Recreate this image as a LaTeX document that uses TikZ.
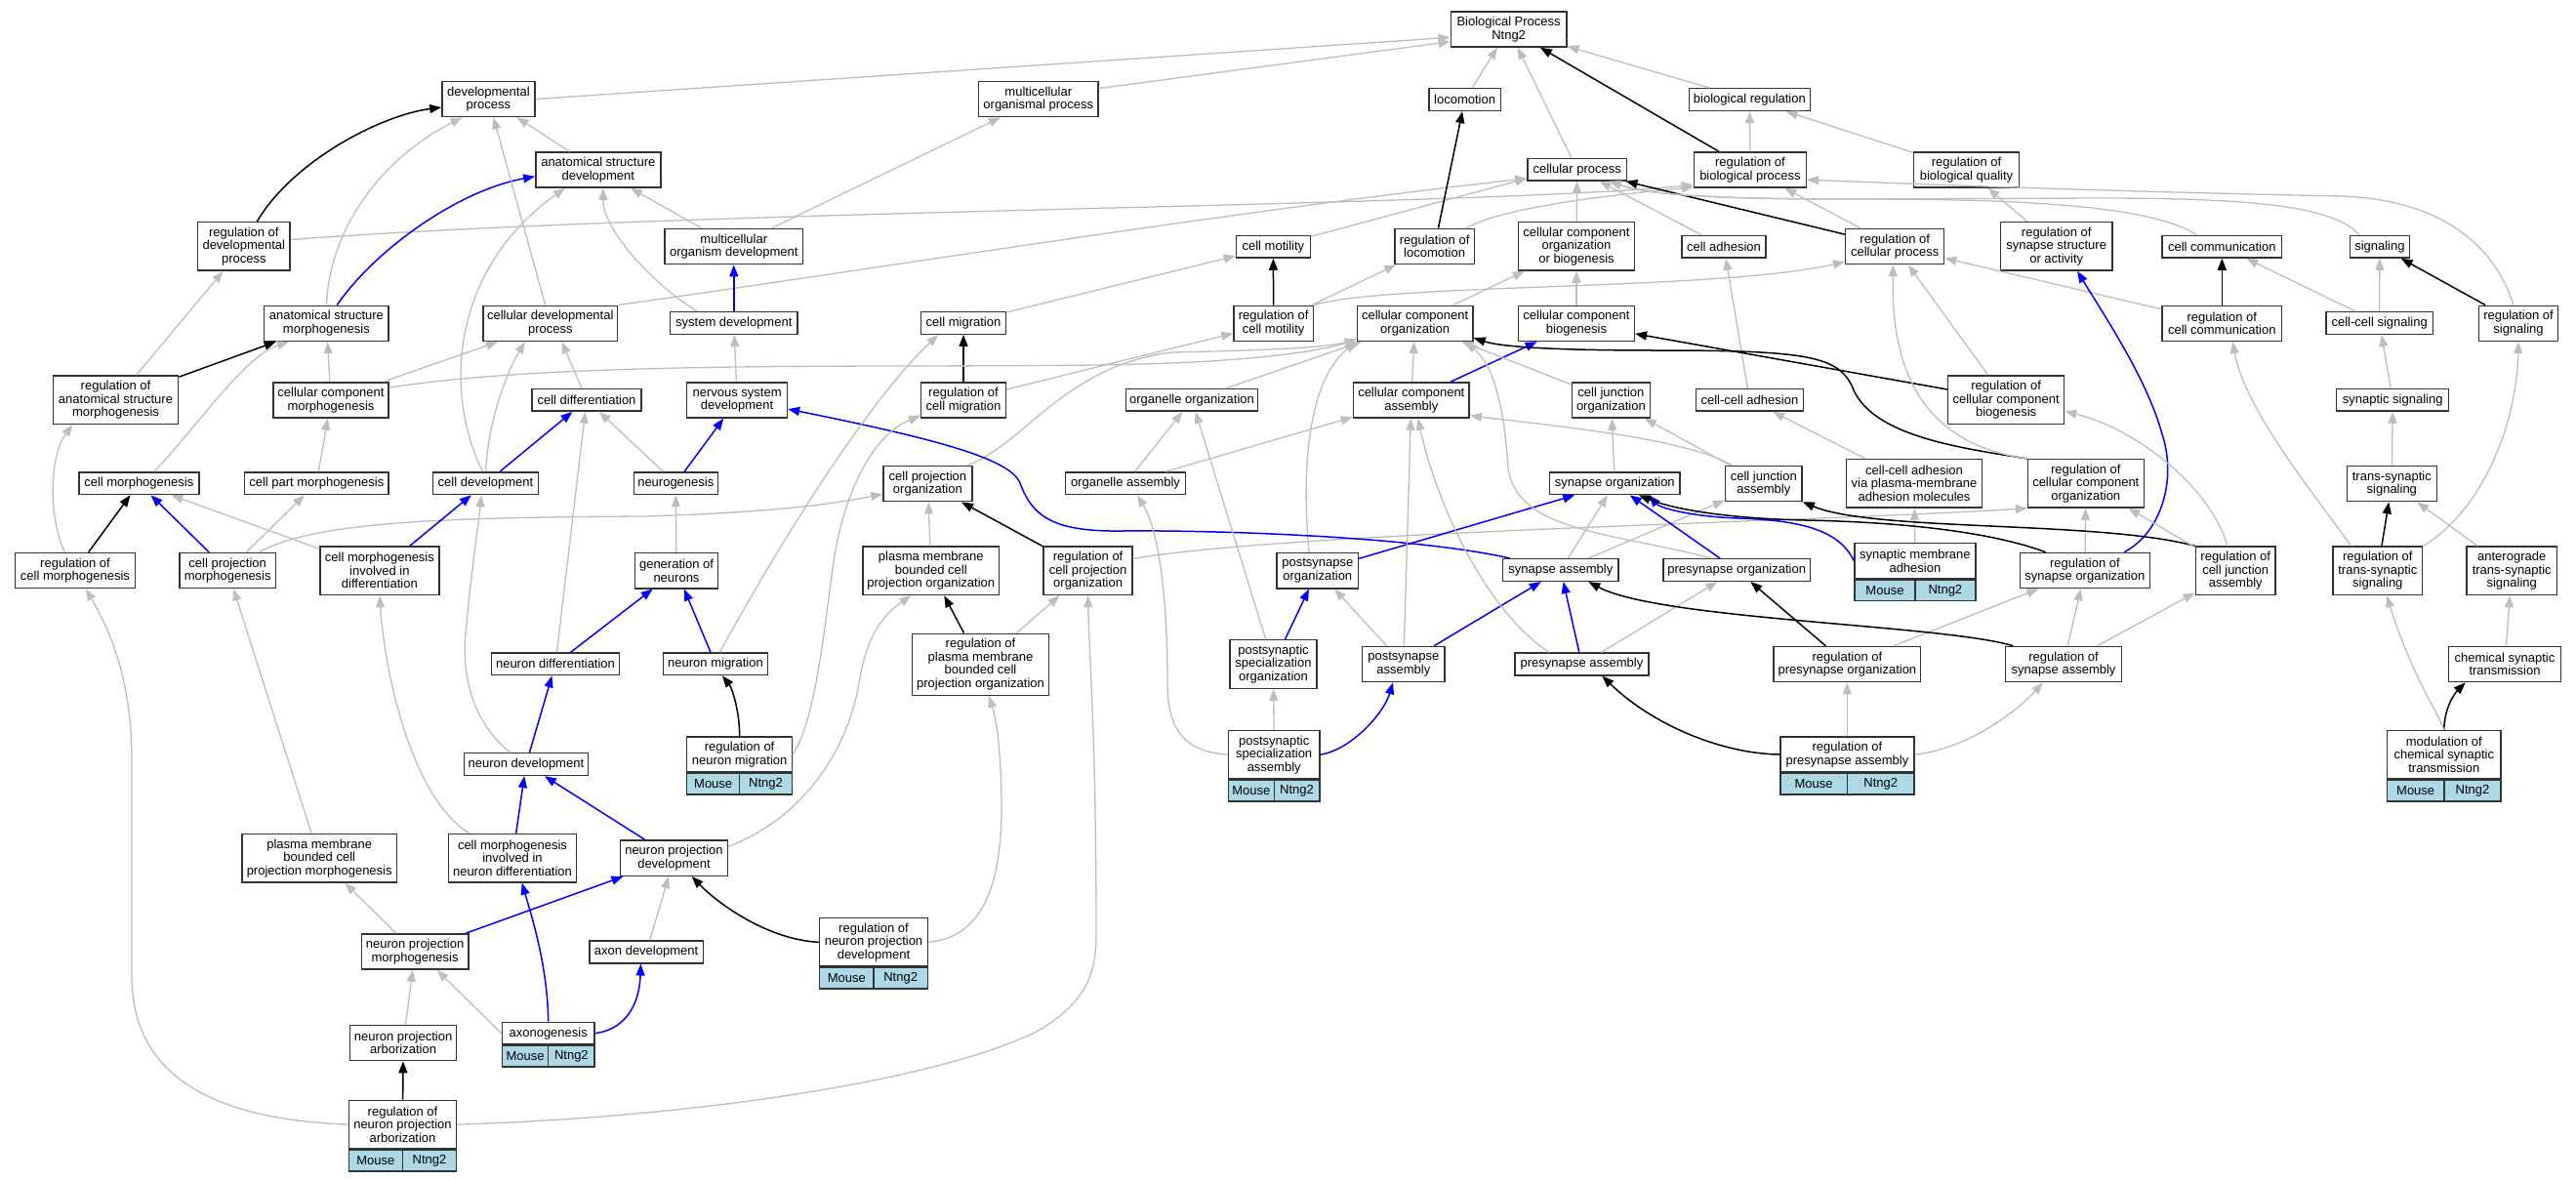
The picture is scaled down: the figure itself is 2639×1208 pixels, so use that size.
\documentclass[tikz,border=0pt]{standalone}
\usepackage{fontspec}
\setmainfont{Liberation Sans}
\usetikzlibrary{arrows.meta}
\definecolor{gvgray}{HTML}{BEBEBE}
\definecolor{gvcell}{HTML}{ADD8E6}
\definecolor{gvblue}{HTML}{0000FF}
\newcommand{\gofont}{\fontsize{13}{13.5}\selectfont}
\tikzset{
 gobox/.style={draw=black!80, line width=1.4pt, fill=white, inner sep=0pt, align=center, font=\gofont},
 cellbox/.style={draw=black!80, line width=1.4pt, fill=gvcell, inner sep=0pt, align=center, font=\gofont, minimum height=21.5pt},
 eisa/.style={draw=gvgray, line width=1.3pt, -{Triangle[length=12pt,width=9pt]}},
 ereg/.style={draw=black, line width=1.5pt, -{Triangle[length=12pt,width=9pt]}},
 epart/.style={draw=gvblue, line width=1.5pt, -{Triangle[length=12pt,width=9pt]}},
}
\newcommand{\gonode}[6]{\node[gobox, minimum width=#4pt, minimum height=#5pt] (#1) at (#2,#3) {#6};}
\newcommand{\annot}[7]{%
 \node[gobox, minimum width=#4pt, minimum height=#6pt, anchor=north] (#1) at (#2,#3) {#7};
 \node[cellbox, minimum width=#5pt, anchor=north west] (#1m) at (#1.south west) {Mouse};
 \node[cellbox, minimum width=#5pt, anchor=north east] (#1n) at (#1.south east) {Ntng2};
}
\begin{document}
\begin{tikzpicture}[x=1pt,y=-1pt]
\fill[white] (0,0) rectangle (2639,1208);
\useasboundingbox (0,0) rectangle (2639,1208);
% ---------- nodes ----------
\gonode{BP}{1545.6}{29.9}{118.7}{36.2}{Biological Process\\Ntng2}
\gonode{devp}{500.4}{101.5}{95.1}{36.2}{developmental\\process}
\gonode{mop}{1063.8}{101.5}{122.5}{36.2}{multicellular\\organismal process}
\gonode{loc}{1500.6}{102.1}{73.3}{22.7}{locomotion}
\gonode{bioreg}{1792.4}{102.1}{124.1}{22.7}{biological regulation}
\gonode{asd}{612.8}{174}{128}{36.2}{anatomical structure\\development}
\gonode{cellproc}{1615.7}{173.7}{101.4}{22.7}{cellular process}
\gonode{rbp}{1792.9}{173.9}{114.9}{36.2}{regulation of\\biological process}
\gonode{rbq}{2014.5}{173.9}{107.8}{36.2}{regulation of\\biological quality}
\gonode{rdp}{249.8}{252.3}{94.7}{49.5}{regulation of\\developmental\\process}
\gonode{mod}{751.8}{252.5}{141.4}{36.2}{multicellular\\organism development}
\gonode{celmot}{1304.4}{252.7}{75.8}{22.7}{cell motility}
\gonode{rloc}{1469.6}{252.5}{81.2}{36.2}{regulation of\\locomotion}
\gonode{ccob}{1615}{252.3}{118.7}{49.5}{cellular component\\organization\\or biogenesis}
\gonode{celladh}{1766}{252.7}{86.3}{22.7}{cell adhesion}
\gonode{rcp}{1941.2}{252.5}{101.1}{36.2}{regulation of\\cellular process}
\gonode{rssa}{2106.7}{252.3}{114.5}{49.5}{regulation of\\synapse structure\\or activity}
\gonode{cellcomm}{2276.3}{252.7}{122.9}{22.7}{cell communication}
\gonode{signaling}{2437.9}{252.7}{61.4}{22.7}{signaling}
\gonode{asm}{334.4}{331.3}{127.5}{36.2}{anatomical structure\\morphogenesis}
\gonode{cdp}{563.8}{331.3}{137.7}{36.2}{cellular developmental\\process}
\gonode{sysdev}{751.8}{330.9}{130.5}{22.7}{system development}
\gonode{cellmig}{987}{330.9}{86.7}{22.7}{cell migration}
\gonode{rcmot}{1304.6}{331.3}{81.3}{36.2}{regulation of\\cell motility}
\gonode{cco}{1449.6}{331.3}{118.7}{36.2}{cellular component\\organization}
\gonode{ccb}{1615}{331.3}{118.7}{36.2}{cellular component\\biogenesis}
\gonode{rcc}{2276.3}{331.3}{122.9}{36.2}{regulation of\\cell communication}
\gonode{ccs}{2437.7}{330.9}{109.8}{22.7}{cell-cell signaling}
\gonode{rsig}{2580}{331.3}{81.3}{36.2}{regulation of\\signaling}
\gonode{rasm}{118.5}{409.7}{128.4}{49.5}{regulation of\\anatomical structure\\morphogenesis}
\gonode{ccm}{339}{409.9}{118.2}{36.2}{cellular component\\morphogenesis}
\gonode{celldiff}{601}{409.8}{112}{22.7}{cell differentiation}
\gonode{nsd}{755.1}{409.9}{102.7}{36.2}{nervous system\\development}
\gonode{rcmig}{987}{409.9}{86.7}{36.2}{regulation of\\cell migration}
\gonode{orgorg}{1221}{409.8}{135.5}{22.7}{organelle organization}
\gonode{cca}{1445.8}{409.9}{118.7}{36.2}{cellular component\\assembly}
\gonode{cjo}{1650.4}{409.9}{80}{36.2}{cell junction\\organization}
\gonode{ccadh}{1792.4}{409.8}{109.9}{22.7}{cell-cell adhesion}
\gonode{rccb}{2055.1}{409.7}{119.1}{49.5}{regulation of\\cellular component\\biogenesis}
\gonode{synsig}{2451.2}{409.8}{114.9}{22.7}{synaptic signaling}
\gonode{cellmorph}{142.3}{495.2}{123}{22.7}{cell morphogenesis}
\gonode{cpm}{324.3}{495.2}{147.7}{22.7}{cell part morphogenesis}
\gonode{celldev}{497.5}{495.2}{107.7}{22.7}{cell development}
\gonode{neurog}{692.3}{495.2}{86.2}{22.7}{neurogenesis}
\gonode{cpo}{950.4}{495.6}{90.9}{36.2}{cell projection\\organization}
\gonode{orgass}{1153}{495.2}{122.5}{22.7}{organelle assembly}
\gonode{synorg}{1654.3}{495.3}{133.5}{22.7}{synapse organization}
\gonode{cja}{1806.8}{495.6}{78.7}{36.2}{cell junction\\assembly}
\gonode{ccapm}{1961}{495.3}{139}{49.5}{cell-cell adhesion\\via plasma-membrane\\adhesion molecules}
\gonode{rcco}{2136.8}{495.3}{119.1}{49.5}{regulation of\\cellular component\\organization}
\gonode{tss}{2450.3}{495.6}{92.2}{36.2}{trans-synaptic\\signaling}
\gonode{rcm}{77}{584.5}{122.9}{36.2}{regulation of\\cell morphogenesis}
\gonode{cprojm}{233.2}{584.5}{98.5}{36.2}{cell projection\\morphogenesis}
\gonode{cmid}{388.9}{584.8}{122}{49.5}{cell morphogenesis\\involved in\\differentiation}
\gonode{gon}{693}{584.7}{84.8}{36.2}{generation of\\neurons}
\gonode{pmbcpo}{953.8}{584.8}{139.7}{49.5}{plasma membrane\\bounded cell\\projection organization}
\gonode{rcpo}{1114.6}{584.8}{90.9}{49.5}{regulation of\\cell projection\\organization}
\gonode{postorg}{1349.8}{584.7}{83.5}{36.2}{postsynapse\\organization}
\gonode{synass}{1598.9}{584}{118.3}{22.7}{synapse assembly}
\gonode{preorg}{1779.2}{584}{150.7}{22.7}{presynapse organization}
\gonode{rso}{2135.9}{584.5}{133.4}{36.2}{regulation of\\synapse organization}
\gonode{rcja}{2290.2}{584.8}{81.6}{49.5}{regulation of\\cell junction\\assembly}
\gonode{rtss}{2435.8}{584.8}{91.8}{49.5}{regulation of\\trans-synaptic\\signaling}
\gonode{atss}{2573.2}{584.8}{92.2}{49.5}{anterograde\\trans-synaptic\\signaling}
\gonode{ndiff}{569}{680.3}{130.5}{22.7}{neuron differentiation}
\gonode{nmig}{733}{680.3}{106.5}{22.7}{neuron migration}
\gonode{rpmbcpo}{1004.5}{680.7}{140.2}{63}{regulation of\\plasma membrane\\bounded cell\\projection organization}
\gonode{psso}{1304.5}{680.5}{89}{49.5}{postsynaptic\\specialization\\organization}
\gonode{postass}{1437.8}{680.5}{84.1}{36.2}{postsynapse\\assembly}
\gonode{preass}{1620.5}{680.5}{137.2}{22.7}{presynapse assembly}
\gonode{rpo}{1892.4}{680.5}{150.7}{36.2}{regulation of\\presynapse organization}
\gonode{rsa}{2114}{680.5}{119.1}{36.2}{regulation of\\synapse assembly}
\gonode{cst}{2566}{680.5}{114.9}{36.2}{chemical synaptic\\transmission}
\gonode{ndev}{538.9}{783.1}{126.7}{22.7}{neuron development}
\gonode{pmbcpm}{327.2}{879.2}{158.7}{49.5}{plasma membrane\\bounded cell\\projection morphogenesis}
\gonode{cmind}{525}{879.2}{130.9}{49.5}{cell morphogenesis\\involved in\\neuron differentiation}
\gonode{npd}{690.5}{879.2}{109.9}{36.2}{neuron projection\\development}
\gonode{npm}{425.1}{975}{109.4}{36.2}{neuron projection\\morphogenesis}
\gonode{axdev}{662.1}{975.5}{116.2}{22.7}{axon development}
\gonode{npa}{413.1}{1068.5}{109}{36.2}{neuron projection\\arborization}
% annotated nodes
\annot{rnm}{757.6}{754.2}{107.7}{53.85}{36.2}{regulation of\\neuron migration}
\annot{pssa}{1305.2}{747.7}{93.5}{46.75}{49.5}{postsynaptic\\specialization\\assembly}
\annot{rpa}{1892.4}{754.2}{137.2}{68.6}{36.2}{regulation of\\presynapse assembly}
\annot{mcst}{2503.8}{747.7}{116.6}{58.3}{49.5}{modulation of\\chemical synaptic\\transmission}
\annot{rnpd}{895}{939.9}{110.7}{55.35}{49.5}{regulation of\\neuron projection\\development}
\annot{axon}{561.7}{1046.6}{94.7}{47.35}{22.7}{axonogenesis}
\annot{rnpa}{412.5}{1126.7}{110.3}{55.15}{49.5}{regulation of\\neuron projection\\arborization}
\annot{sma}{1961.9}{555.9}{123.8}{61.9}{36.2}{synaptic membrane\\adhesion}
% ---------- edges ----------
\draw[eisa] (devp.east) -- (BP.188);
\draw[eisa] (mop.10) -- (BP.192);
\draw[eisa] (loc) -- (BP);
\draw[eisa] (cellproc) -- (BP);
\draw[ereg] (rbp) -- (BP);
\draw[eisa] (bioreg) -- (BP);
\draw[eisa] (rbp) -- (bioreg);
\draw[eisa] (rbq) -- (bioreg);
\draw[eisa] (asd) -- (devp);
\draw[ereg] (rdp.62) .. controls (300,165) and (390,118) .. (devp.190);
\draw[eisa] (rdp.8) .. controls (700,215) and (1500,212) .. (rbp.195);
\draw[eisa] (mod) -- (asd);
\draw[eisa] (mod) -- (mop);
\draw[eisa] (celmot) -- (cellproc.190);
\draw[eisa] (cdp.north east) .. controls (900,275) and (1250,218) .. (cellproc.190);
\draw[ereg] (rloc) -- (loc);
\draw[eisa] (rloc.30) .. controls (1540,212) and (1650,200) .. (rbp.197);
\draw[eisa] (ccob) -- (cellproc);
\draw[eisa] (celladh) -- (cellproc);
\draw[ereg] (rcp) -- (cellproc);
\draw[eisa] (rcp) -- (rbp);
\draw[eisa] (rssa) -- (rbq);
\draw[eisa] (cellcomm.155) .. controls (2200,208) and (2050,204) .. (1900,204) .. controls (1760,204) and (1690,200) .. (cellproc.340);
\draw[eisa] (signaling.150) .. controls (2390,210) and (2300,203) .. (2150,203) -- (1900,204) .. controls (1760,204) and (1690,200) .. (cellproc.340);
\draw[eisa] (rsig.105) .. controls (2555,250) and (2500,205) .. (2400,201) .. controls (2150,196) and (1950,188) .. (rbp.350);
\draw[eisa] (cellmig) -- (celmot);
\draw[ereg] (rcmot) -- (celmot);
\draw[eisa] (rcmot) -- (rloc);
\draw[eisa] (rcmot.north east) .. controls (1420,290) and (1760,298) .. (rcp.197);
\draw[eisa] (cco) -- (ccob);
\draw[eisa] (ccb) -- (ccob);
\draw[eisa] (ccadh) -- (celladh);
\draw[ereg] (rcc) -- (cellcomm);
\draw[eisa] (rcc) -- (rcp);
\draw[eisa] (ccs) -- (cellcomm);
\draw[eisa] (ccs) -- (signaling);
\draw[ereg] (rsig) -- (signaling);
% row 5
\draw[epart] (asm.60) .. controls (385,255) and (470,195) .. (asd.186);
\draw[eisa] (asm.north) .. controls (338,230) and (395,160) .. (devp.215);
\draw[eisa] (cdp) -- (devp);
\draw[epart] (sysdev) -- (mod);
\draw[eisa] (sysdev.162) .. controls (680,300) and (618,240) .. (asd.285);
\draw[ereg] (rcmig) -- (cellmig);
% row 6
\draw[ereg] (rasm) -- (asm);
\draw[eisa] (rasm) -- (rdp);
\draw[eisa] (ccm) -- (asm);
\draw[eisa] (ccm) -- (cdp);
\draw[eisa] (ccm.12) .. controls (600,365) and (1000,380) .. (1200,372) .. controls (1300,368) and (1360,358) .. (cco.195);
\draw[eisa] (celldiff) -- (cdp.302);
\draw[eisa] (nsd) -- (sysdev);
\draw[eisa] (rcmig) -- (rcmot);
\draw[eisa] (orgorg) -- (cco);
\draw[eisa] (cca) -- (cco);
\draw[epart] (cca) -- (ccb);
\draw[eisa] (cjo) -- (cco);
\draw[ereg] (rccb) -- (ccb);
\draw[eisa] (rccb) -- (rcp);
\draw[eisa] (synsig) -- (ccs);
% row 7
\draw[eisa] (cellmorph.38) .. controls (200,440) and (250,365) .. (asm.206);
\draw[eisa] (cpm) -- (ccm);
\draw[epart] (celldev) -- (celldiff);
\draw[eisa] (celldev.105) .. controls (450,390) and (470,270) .. (asd.209);
\draw[eisa] (celldev.north) .. controls (500,430) and (520,380) .. (cdp.216);
\draw[epart] (neurog) -- (nsd);
\draw[eisa] (neurog) -- (celldiff);
\draw[eisa] (cpo.25) .. controls (1050,455) and (1090,375) .. (1200,361) .. controls (1300,359) and (1360,356) .. (cco.195);
\draw[eisa] (orgass) -- (orgorg);
\draw[eisa] (orgass) -- (cca);
\draw[eisa] (synorg) -- (cjo);
\draw[eisa] (cja) -- (cjo);
\draw[eisa] (cja.150) .. controls (1730,450) and (1600,437) .. (cca.345);
\draw[eisa] (ccapm) -- (ccadh);
\draw[ereg] (rcco.north west) .. controls (2000,458) and (1915,445) .. (1897,395) .. controls (1882,365) and (1850,359) .. (1700,359) .. controls (1600,359) and (1540,356) .. (cco.346);
\draw[eisa] (rcco.north west) .. controls (1970,455) and (1937,380) .. (rcp.265);
\draw[eisa] (tss) -- (synsig);
% row 8
\draw[ereg] (rcm) -- (cellmorph);
\draw[eisa] (rcm.120) .. controls (48,525) and (52,465) .. (rasm.210);
\draw[epart] (cprojm) -- (cellmorph);
\draw[eisa] (cprojm) -- (cpm);
\draw[eisa] (cprojm.30) .. controls (320,535) and (450,530) .. (660,529) .. controls (800,525) and (860,515) .. (cpo.193);
\draw[eisa] (cmid) -- (cellmorph);
\draw[epart] (cmid) -- (celldev);
\draw[eisa] (gon) -- (neurog);
\draw[eisa] (pmbcpo) -- (cpo);
\draw[ereg] (rcpo) -- (cpo);
\draw[eisa] (rcpo.15) .. controls (1320,545) and (1850,535) .. (rcco.203);
\draw[epart] (postorg) -- (synorg);
\draw[eisa] (postorg.115) .. controls (1333,480) and (1340,390) .. (cco.south west);
\draw[eisa] (synass) -- (synorg);
\draw[eisa] (synass) -- (cja);
\draw[epart] (synass.167) .. controls (1450,550) and (1250,543) .. (1150,544) .. controls (1080,545) and (1058,530) .. (1045,495) .. controls (1035,470) and (960,450) .. (nsd.350);
\draw[epart] (preorg) -- (synorg.322);
\draw[eisa] (preorg.155) .. controls (1650,545) and (1555,545) .. (1545,480) .. controls (1540,400) and (1525,370) .. (cco.340);
\draw[epart] (sma.west) .. controls (1885,545) and (1850,533) .. (1780,531) .. controls (1730,529) and (1700,520) .. (synorg.341);
\draw[eisa] (sma) -- (ccapm);
\draw[ereg] (rso.155) .. controls (2040,545) and (1950,535) .. (1850,533) .. controls (1760,531) and (1710,520) .. (synorg.334);
\draw[epart] (rso.25) .. controls (2215,545) and (2230,490) .. (2215,445) .. controls (2200,390) and (2160,330) .. (rssa.310);
\draw[eisa] (rso) -- (rcco);
\draw[ereg] (rcja.north west) .. controls (2150,533) and (1920,545) .. (cja.335);
\draw[eisa] (rcja) -- (rcco);
\draw[eisa] (rcja.108) .. controls (2265,500) and (2190,440) .. (rccb.349);
\draw[ereg] (rtss) -- (tss);
\draw[eisa] (rtss.137) .. controls (2370,505) and (2300,420) .. (rcc.300);
\draw[eisa] (rtss.north east) .. controls (2540,525) and (2578,440) .. (rsig.south);
\draw[eisa] (atss) -- (tss);
% row 9
\draw[eisa] (ndiff) -- (celldiff);
\draw[epart] (ndiff) -- (gon);
\draw[epart] (nmig) -- (gon);
\draw[eisa] (nmig.70) .. controls (780,590) and (880,420) .. (cellmig.205);
\draw[ereg] (rpmbcpo) -- (pmbcpo);
\draw[eisa] (rpmbcpo) -- (rcpo);
\draw[epart] (psso) -- (postorg);
\draw[eisa] (psso) -- (orgorg);
\draw[eisa] (postass) -- (postorg);
\draw[epart] (postass) -- (synass);
\draw[eisa] (postass) -- (cca);
\draw[epart] (preass) -- (synass);
\draw[eisa] (preass) -- (preorg);
\draw[eisa] (preass.160) .. controls (1520,625) and (1470,510) .. (cca.290);
\draw[ereg] (rpo) -- (preorg);
\draw[eisa] (rpo) -- (rso);
\draw[ereg] (rsa.160) .. controls (1990,640) and (1700,635) .. (synass.337);
\draw[eisa] (rsa) -- (rso);
\draw[eisa] (rsa) -- (rcja);
\draw[eisa] (cst) -- (atss);
% row 10
\draw[ereg] (rnm.north) .. controls (758,730) and (750,705) .. (nmig.300);
\draw[eisa] (rnm.east) .. controls (835,740) and (845,640) .. (852,590) .. controls (862,505) and (895,445) .. (rcmig.200);
\draw[epart] (ndev) -- (ndiff);
\draw[eisa] (ndev.143) .. controls (490,745) and (470,700) .. (478,640) .. controls (482,590) and (490,540) .. (celldev.250);
\draw[eisa] (pssa) -- (psso);
\draw[epart] (pssa.east) .. controls (1385,768) and (1418,730) .. (postass.240);
\draw[eisa] (pssa.west) .. controls (1215,770) and (1196,750) .. (1196,700) .. controls (1196,600) and (1185,540) .. (orgass.315);
\draw[ereg] (rpa.west) .. controls (1760,772) and (1690,740) .. (preass.330);
\draw[eisa] (rpa) -- (rpo);
\draw[eisa] (rpa.east) .. controls (2010,768) and (2060,735) .. (rsa.222);
\draw[ereg] (mcst.north) .. controls (2504,725) and (2515,710) .. (cst.205);
\draw[eisa] (mcst.north) .. controls (2495,725) and (2470,690) .. (rtss.290);
% row 11
\draw[eisa] (pmbcpm) -- (cprojm);
\draw[epart] (cmind) -- (ndev);
\draw[eisa] (cmind.150) .. controls (425,820) and (395,700) .. (cmid.south);
\draw[epart] (npd) -- (ndev);
\draw[eisa] (npd.12) .. controls (830,835) and (870,760) .. (880,700) .. controls (888,650) and (905,630) .. (pmbcpo.231);
\draw[ereg] (rnpd.west) .. controls (790,963) and (740,930) .. (npd.314);
\draw[eisa] (rnpd.east) .. controls (1010,960) and (1027,900) .. (1026,820) .. controls (1025,760) and (1020,735) .. (rpmbcpo.285);
% row 12-14
\draw[eisa] (npm) -- (pmbcpm);
\draw[epart] (npm) -- (npd);
\draw[eisa] (axdev) -- (npd);
\draw[eisa] (npa) -- (npm);
\draw[eisa] (axon.west) -- (npm.320);
\draw[epart] (axon.north) .. controls (561,990) and (545,940) .. (cmind.291);
\draw[epart] (axon.east) .. controls (640,1055) and (655,1030) .. (axdev.245);
\draw[ereg] (rnpa) -- (npa);
\draw[eisa] (rnpa.west) .. controls (250,1148) and (135,1120) .. (135,1000) -- (135,780) .. controls (135,700) and (115,650) .. (rcm.300);
\draw[eisa] (rnpa.east) .. controls (700,1145) and (950,1110) .. (1060,1058) .. controls (1110,1030) and (1123,1000) .. (1123,960) .. controls (1123,750) and (1116,680) .. (rcpo.south);
\end{tikzpicture}
\end{document}
